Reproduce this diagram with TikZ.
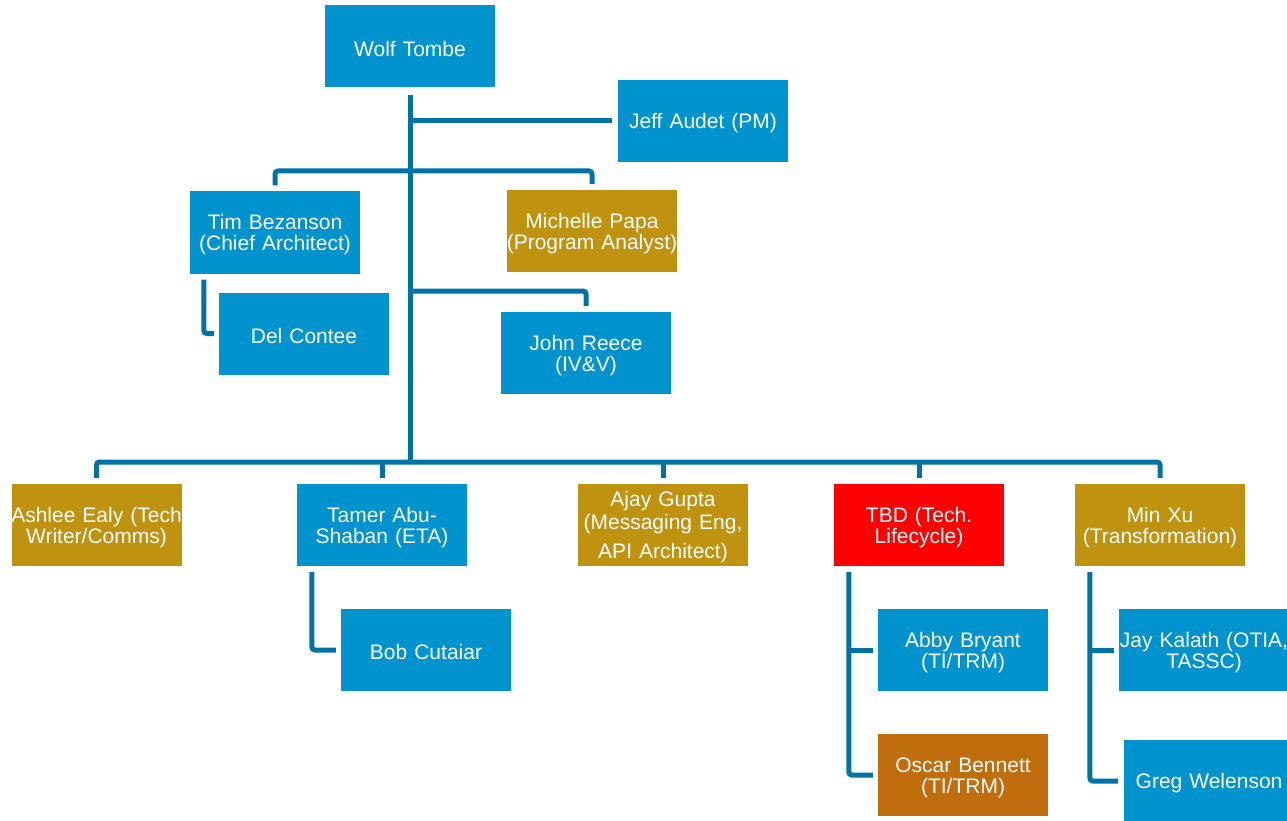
\documentclass[tikz,border=0pt]{standalone}
\usepackage{fontspec}
\setmainfont{Liberation Sans}
\definecolor{boxblue}{HTML}{0093CE}
\definecolor{linkblue}{HTML}{0073A6}
\definecolor{boxgold}{HTML}{BF930F}
\definecolor{boxorange}{HTML}{C06D0D}
\definecolor{boxred}{HTML}{FF0000}
\newcommand\wideline[1]{\hbox to 170pt{\hss#1\hss}}
\begin{document}
\begin{tikzpicture}[x=1pt,y=-1pt,
  box/.style={rectangle, fill=boxblue, inner sep=0pt, minimum width=170pt, minimum height=82pt,
    text width=170pt, align=center, text=white, font=\fontsize{21pt}{21pt}\selectfont,
    execute at begin node={\rule{0pt}{19.5pt}}},
  gold/.style={box, fill=boxgold},
  orange/.style={box, fill=boxorange},
  red/.style={box, fill=boxred},
  conn/.style={draw=linkblue, line width=5pt, rounded corners=3pt}]
\useasboundingbox (0,0) rectangle (1287,821);
% nodes
\node[box] (wolf) at (410,46.5) {Wolf Tombe};
\node[box] (jeff) at (703,121) {Jeff Audet (PM)};
\node[box] (tim) at (275,232.5) {Tim Bezanson\\(Chief Architect)};
\node[gold] (michelle) at (592,231) {Michelle Papa\\\wideline{(Program Analyst)}};
\node[box] (del) at (304,333.5) {Del Contee};
\node[box] (john) at (586,353) {John Reece\\(IV\&V)};
\node[gold] (ashlee) at (96.5,525) {\wideline{Ashlee Ealy (Tech}\\Writer/Comms)};
\node[box] (tamer) at (382,525) {Tamer Abu-\\Shaban (ETA)};
\node[gold] (ajay) at (663,525) {Ajay Gupta\\[2pt](Messaging Eng,\\[8pt]API Architect)};
\node[red] (tbd) at (919,525) {TBD (Tech.\\Lifecycle)};
\node[gold] (min) at (1160,525) {Min Xu\\(Transformation)};
\node[box] (bob) at (426,650) {Bob Cutaiar};
\node[box] (abby) at (963,650) {Abby Bryant\\(TI/TRM)};
\node[orange] (oscar) at (963,775) {Oscar Bennett\\(TI/TRM)};
\node[box] (jay) at (1204,650) {\wideline{Jay Kalath (OTIA,}\\TASSC)};
\node[box] (greg) at (1209,781) {Greg Welenson};
% helper coordinates
\coordinate (bus) at (410,462);
\coordinate (b1) at (410,171);
\coordinate (b2) at (410,291);
% connectors
\draw[conn] ([yshift=-7pt]wolf.south) -- (wolf.south |- bus);
\draw[conn] (wolf.south |- jeff.west) -- ([xshift=-6pt]jeff.west);
\draw[conn] ([yshift=6pt]tim.north) |- (b1) -| ([yshift=6pt]michelle.north);
\draw[conn] (b2) -| ([yshift=6pt]john.north);
\draw[conn] ([xshift=14pt,yshift=-6pt]tim.south west) |- ([xshift=-5pt]del.west);
\draw[conn] ([yshift=6pt]ashlee.north) |- (bus) -| ([yshift=6pt]min.north);
\draw[conn] ([yshift=6pt]tamer.north) -- (tamer.north |- bus);
\draw[conn] ([yshift=6pt]ajay.north) -- (ajay.north |- bus);
\draw[conn] ([yshift=6pt]tbd.north) -- (tbd.north |- bus);
\draw[conn] ([xshift=15pt,yshift=-6pt]tamer.south west) |- ([xshift=-5pt]bob.west);
\coordinate (tv) at ([xshift=15pt,yshift=-6pt]tbd.south west);
\draw[conn] (tv) |- ([xshift=-5pt]oscar.west);
\draw[conn] (tv |- abby.west) -- ([xshift=-5pt]abby.west);
\coordinate (mv) at ([xshift=15pt,yshift=-6pt]min.south west);
\draw[conn] (mv) |- ([xshift=-6pt]greg.west);
\draw[conn] (mv |- jay.west) -- ([xshift=-5pt]jay.west);
\end{tikzpicture}
\end{document}
